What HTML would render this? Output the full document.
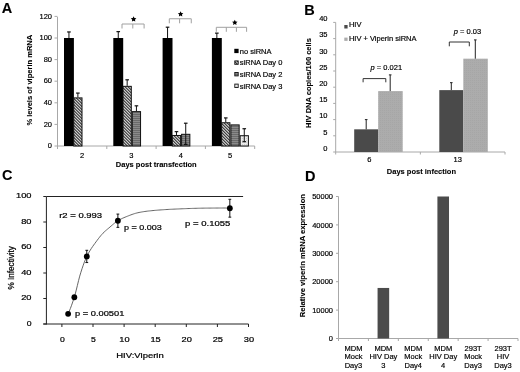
<!DOCTYPE html>
<html><head><meta charset="utf-8"><style>
html,body{margin:0;padding:0;background:#fff;}
svg{display:block;filter:grayscale(100%) blur(0.3px);}
text{font-family:"Liberation Sans",sans-serif;stroke:#000;stroke-width:0.18px;}
text[font-weight=bold]{stroke-width:0.1px;}
.c{stroke:#000;stroke-width:0.22px;}
</style></head><body>
<svg width="520" height="372" viewBox="0 0 520 372">
<defs>
<pattern id="hatch" patternUnits="userSpaceOnUse" width="2.12" height="2.12" patternTransform="rotate(45)">
<rect width="2.12" height="2.12" fill="#fff"/><rect width="2.12" height="1.0" fill="#000"/></pattern>
<pattern id="grayp" patternUnits="userSpaceOnUse" width="2" height="2">
<rect width="2" height="2" fill="#8a8a8a"/><rect width="2" height="1" fill="#6a6a6a"/></pattern>
<pattern id="whitep" patternUnits="userSpaceOnUse" width="2" height="2">
<rect width="2" height="2" fill="#ececec"/><rect width="1" height="1" fill="#d0d0d0"/></pattern>
<pattern id="ltp" patternUnits="userSpaceOnUse" width="2" height="2">
<rect width="2" height="2" fill="#acacac"/><rect width="1" height="1" fill="#a6a6a6"/></pattern>
</defs>
<rect width="520" height="372" fill="#fff"/>
<text x="1.70" y="12.50" font-size="14.5" text-anchor="start" font-weight="bold">A</text>
<line x1="57.50" y1="17.00" x2="57.50" y2="146.00" stroke="#a8a8a8" stroke-width="1"/>
<line x1="54.50" y1="146.00" x2="57.50" y2="146.00" stroke="#a8a8a8" stroke-width="1"/>
<text x="52.00" y="148.20" font-size="7.5" text-anchor="end">0</text>
<line x1="54.50" y1="124.40" x2="57.50" y2="124.40" stroke="#a8a8a8" stroke-width="1"/>
<text x="52.00" y="126.60" font-size="7.5" text-anchor="end">20</text>
<line x1="54.50" y1="102.80" x2="57.50" y2="102.80" stroke="#a8a8a8" stroke-width="1"/>
<text x="52.00" y="105.00" font-size="7.5" text-anchor="end">40</text>
<line x1="54.50" y1="81.20" x2="57.50" y2="81.20" stroke="#a8a8a8" stroke-width="1"/>
<text x="52.00" y="83.40" font-size="7.5" text-anchor="end">60</text>
<line x1="54.50" y1="59.60" x2="57.50" y2="59.60" stroke="#a8a8a8" stroke-width="1"/>
<text x="52.00" y="61.80" font-size="7.5" text-anchor="end">80</text>
<line x1="54.50" y1="38.00" x2="57.50" y2="38.00" stroke="#a8a8a8" stroke-width="1"/>
<text x="52.00" y="40.20" font-size="7.5" text-anchor="end">100</text>
<line x1="54.50" y1="16.40" x2="57.50" y2="16.40" stroke="#a8a8a8" stroke-width="1"/>
<text x="52.00" y="18.60" font-size="7.5" text-anchor="end">120</text>
<line x1="57.50" y1="146.00" x2="254.70" y2="146.00" stroke="#a8a8a8" stroke-width="1"/>
<line x1="57.50" y1="146.00" x2="57.50" y2="149.00" stroke="#a8a8a8" stroke-width="1"/>
<line x1="106.80" y1="146.00" x2="106.80" y2="149.00" stroke="#a8a8a8" stroke-width="1"/>
<line x1="156.10" y1="146.00" x2="156.10" y2="149.00" stroke="#a8a8a8" stroke-width="1"/>
<line x1="205.40" y1="146.00" x2="205.40" y2="149.00" stroke="#a8a8a8" stroke-width="1"/>
<line x1="254.70" y1="146.00" x2="254.70" y2="149.00" stroke="#a8a8a8" stroke-width="1"/>
<text x="82.15" y="157.70" font-size="7.5" text-anchor="middle">2</text>
<text x="131.45" y="157.70" font-size="7.5" text-anchor="middle">3</text>
<text x="180.75" y="157.70" font-size="7.5" text-anchor="middle">4</text>
<text x="230.05" y="157.70" font-size="7.5" text-anchor="middle">5</text>
<text x="156.25" y="167.00" font-size="7.5" text-anchor="middle" font-weight="bold">Days post transfection</text>
<text x="32.50" y="80.20" font-size="7.8" text-anchor="middle" font-weight="bold" textLength="90.8" lengthAdjust="spacingAndGlyphs" transform="rotate(-90 32.50 80.20)">% levels of viperin mRNA</text>
<rect x="64.00" y="38.00" width="9.90" height="108.00" fill="#000"/>
<line x1="68.95" y1="38.00" x2="68.95" y2="31.95" stroke="#111" stroke-width="1"/>
<line x1="67.15" y1="31.95" x2="70.75" y2="31.95" stroke="#111" stroke-width="1.2"/>
<rect x="73.75" y="97.90" width="8.25" height="48.10" fill="url(#hatch)" stroke="#111" stroke-width="1"/>
<line x1="77.88" y1="97.40" x2="77.88" y2="93.08" stroke="#111" stroke-width="1"/>
<line x1="76.08" y1="93.08" x2="79.67" y2="93.08" stroke="#111" stroke-width="1.2"/>
<rect x="113.30" y="38.00" width="9.90" height="108.00" fill="#000"/>
<line x1="118.25" y1="38.00" x2="118.25" y2="31.63" stroke="#111" stroke-width="1"/>
<line x1="116.45" y1="31.63" x2="120.05" y2="31.63" stroke="#111" stroke-width="1.2"/>
<rect x="123.05" y="86.34" width="8.25" height="59.66" fill="url(#hatch)" stroke="#111" stroke-width="1"/>
<line x1="127.17" y1="85.84" x2="127.17" y2="79.80" stroke="#111" stroke-width="1"/>
<line x1="125.38" y1="79.80" x2="128.97" y2="79.80" stroke="#111" stroke-width="1.2"/>
<rect x="132.30" y="111.62" width="8.25" height="34.38" fill="url(#grayp)" stroke="#111" stroke-width="1"/>
<line x1="136.43" y1="111.12" x2="136.43" y2="105.82" stroke="#111" stroke-width="1"/>
<line x1="134.62" y1="105.82" x2="138.23" y2="105.82" stroke="#111" stroke-width="1.2"/>
<rect x="162.60" y="38.00" width="9.90" height="108.00" fill="#000"/>
<line x1="167.55" y1="38.00" x2="167.55" y2="27.20" stroke="#111" stroke-width="1"/>
<line x1="165.75" y1="27.20" x2="169.35" y2="27.20" stroke="#111" stroke-width="1.2"/>
<rect x="172.35" y="135.48" width="8.25" height="10.52" fill="url(#hatch)" stroke="#111" stroke-width="1"/>
<line x1="176.47" y1="134.98" x2="176.47" y2="131.64" stroke="#111" stroke-width="1"/>
<line x1="174.67" y1="131.64" x2="178.28" y2="131.64" stroke="#111" stroke-width="1.2"/>
<rect x="181.60" y="134.30" width="8.25" height="11.70" fill="url(#grayp)" stroke="#111" stroke-width="1"/>
<line x1="185.72" y1="133.80" x2="185.72" y2="123.21" stroke="#111" stroke-width="1"/>
<line x1="183.92" y1="123.21" x2="187.53" y2="123.21" stroke="#111" stroke-width="1.2"/>
<line x1="185.72" y1="133.80" x2="185.72" y2="144.38" stroke="#111" stroke-width="1"/>
<line x1="183.92" y1="144.38" x2="187.53" y2="144.38" stroke="#111" stroke-width="1.2"/>
<rect x="211.90" y="38.00" width="9.90" height="108.00" fill="#000"/>
<line x1="216.85" y1="38.00" x2="216.85" y2="33.14" stroke="#111" stroke-width="1"/>
<line x1="215.05" y1="33.14" x2="218.65" y2="33.14" stroke="#111" stroke-width="1.2"/>
<rect x="221.65" y="122.74" width="8.25" height="23.26" fill="url(#hatch)" stroke="#111" stroke-width="1"/>
<line x1="225.77" y1="122.24" x2="225.77" y2="117.92" stroke="#111" stroke-width="1"/>
<line x1="223.97" y1="117.92" x2="227.57" y2="117.92" stroke="#111" stroke-width="1.2"/>
<rect x="230.90" y="124.90" width="8.25" height="21.10" fill="url(#grayp)" stroke="#111" stroke-width="1"/>
<rect x="240.15" y="135.70" width="8.25" height="10.30" fill="url(#whitep)" stroke="#111" stroke-width="1"/>
<line x1="244.27" y1="135.20" x2="244.27" y2="128.72" stroke="#111" stroke-width="1"/>
<line x1="242.47" y1="128.72" x2="246.07" y2="128.72" stroke="#111" stroke-width="1.2"/>
<line x1="244.27" y1="135.20" x2="244.27" y2="141.68" stroke="#111" stroke-width="1"/>
<line x1="242.47" y1="141.68" x2="246.07" y2="141.68" stroke="#111" stroke-width="1.2"/>
<line x1="122.00" y1="24.00" x2="144.10" y2="24.00" stroke="#a0a0a0" stroke-width="1"/>
<line x1="122.00" y1="24.00" x2="122.00" y2="28.50" stroke="#a0a0a0" stroke-width="1"/>
<line x1="144.10" y1="24.00" x2="144.10" y2="28.50" stroke="#a0a0a0" stroke-width="1"/>
<line x1="132.80" y1="24.00" x2="132.80" y2="28.50" stroke="#a0a0a0" stroke-width="1"/>
<line x1="169.30" y1="18.75" x2="191.25" y2="18.75" stroke="#a0a0a0" stroke-width="1"/>
<line x1="169.30" y1="18.75" x2="169.30" y2="23.30" stroke="#a0a0a0" stroke-width="1"/>
<line x1="191.25" y1="18.75" x2="191.25" y2="23.30" stroke="#a0a0a0" stroke-width="1"/>
<line x1="179.60" y1="18.75" x2="179.60" y2="23.30" stroke="#a0a0a0" stroke-width="1"/>
<line x1="216.30" y1="27.30" x2="246.60" y2="27.30" stroke="#a0a0a0" stroke-width="1"/>
<line x1="216.30" y1="27.30" x2="216.30" y2="31.80" stroke="#a0a0a0" stroke-width="1"/>
<line x1="246.60" y1="27.30" x2="246.60" y2="31.80" stroke="#a0a0a0" stroke-width="1"/>
<line x1="226.30" y1="27.30" x2="226.30" y2="31.80" stroke="#a0a0a0" stroke-width="1"/>
<line x1="236.40" y1="27.30" x2="236.40" y2="31.80" stroke="#a0a0a0" stroke-width="1"/>
<polygon points="133.60,16.30 134.45,18.03 136.36,18.30 134.98,19.65 135.30,21.55 133.60,20.65 131.90,21.55 132.22,19.65 130.84,18.30 132.75,18.03" fill="#000"/>
<polygon points="180.60,11.20 181.45,12.93 183.36,13.20 181.98,14.55 182.30,16.45 180.60,15.55 178.90,16.45 179.22,14.55 177.84,13.20 179.75,12.93" fill="#000"/>
<polygon points="234.80,19.70 235.65,21.43 237.56,21.70 236.18,23.05 236.50,24.95 234.80,24.05 233.10,24.95 233.42,23.05 232.04,21.70 233.95,21.43" fill="#000"/>
<rect x="234.30" y="48.80" width="4.30" height="4.30" fill="#000"/>
<text x="239.80" y="53.70" font-size="7.5" text-anchor="start">no siRNA</text>
<rect x="234.80" y="60.90" width="3.40" height="3.40" fill="url(#hatch)" stroke="#111" stroke-width="0.9"/>
<text x="239.80" y="65.30" font-size="7.5" text-anchor="start">siRNA Day 0</text>
<rect x="234.80" y="72.50" width="3.40" height="3.40" fill="url(#grayp)" stroke="#111" stroke-width="0.9"/>
<text x="239.80" y="76.90" font-size="7.5" text-anchor="start">siRNA Day 2</text>
<rect x="234.80" y="84.10" width="3.40" height="3.40" fill="url(#whitep)" stroke="#111" stroke-width="0.9"/>
<text x="239.80" y="88.50" font-size="7.5" text-anchor="start">siRNA Day 3</text>
<text x="304.20" y="14.60" font-size="14.5" text-anchor="start" font-weight="bold">B</text>
<line x1="335.70" y1="22.40" x2="335.70" y2="152.00" stroke="#a8a8a8" stroke-width="1"/>
<line x1="333.20" y1="152.00" x2="335.70" y2="152.00" stroke="#a8a8a8" stroke-width="1"/>
<text x="327.50" y="150.70" font-size="7.5" text-anchor="end">0</text>
<line x1="333.20" y1="135.80" x2="335.70" y2="135.80" stroke="#a8a8a8" stroke-width="1"/>
<text x="327.50" y="134.50" font-size="7.5" text-anchor="end">5</text>
<line x1="333.20" y1="119.60" x2="335.70" y2="119.60" stroke="#a8a8a8" stroke-width="1"/>
<text x="327.50" y="118.30" font-size="7.5" text-anchor="end">10</text>
<line x1="333.20" y1="103.40" x2="335.70" y2="103.40" stroke="#a8a8a8" stroke-width="1"/>
<text x="327.50" y="102.10" font-size="7.5" text-anchor="end">15</text>
<line x1="333.20" y1="87.20" x2="335.70" y2="87.20" stroke="#a8a8a8" stroke-width="1"/>
<text x="327.50" y="85.90" font-size="7.5" text-anchor="end">20</text>
<line x1="333.20" y1="71.00" x2="335.70" y2="71.00" stroke="#a8a8a8" stroke-width="1"/>
<text x="327.50" y="69.70" font-size="7.5" text-anchor="end">25</text>
<line x1="333.20" y1="54.80" x2="335.70" y2="54.80" stroke="#a8a8a8" stroke-width="1"/>
<text x="327.50" y="53.50" font-size="7.5" text-anchor="end">30</text>
<line x1="333.20" y1="38.60" x2="335.70" y2="38.60" stroke="#a8a8a8" stroke-width="1"/>
<text x="327.50" y="37.30" font-size="7.5" text-anchor="end">35</text>
<line x1="333.20" y1="22.40" x2="335.70" y2="22.40" stroke="#a8a8a8" stroke-width="1"/>
<text x="327.50" y="21.10" font-size="7.5" text-anchor="end">40</text>
<line x1="335.70" y1="152.00" x2="505.00" y2="152.00" stroke="#a8a8a8" stroke-width="1"/>
<line x1="335.70" y1="152.00" x2="335.70" y2="154.50" stroke="#a8a8a8" stroke-width="1"/>
<line x1="420.35" y1="152.00" x2="420.35" y2="154.50" stroke="#a8a8a8" stroke-width="1"/>
<line x1="505.00" y1="152.00" x2="505.00" y2="154.50" stroke="#a8a8a8" stroke-width="1"/>
<text x="369.40" y="161.60" font-size="7.5" text-anchor="middle">6</text>
<text x="457.68" y="161.60" font-size="7.5" text-anchor="middle">13</text>
<text x="421.40" y="174.10" font-size="7.5" text-anchor="middle" font-weight="bold">Days post infection</text>
<text x="311.20" y="83.00" font-size="7.5" text-anchor="middle" font-weight="bold" transform="rotate(-90 311.20 83.00)">HIV DNA copies/100 cells</text>
<rect x="354.20" y="129.32" width="24.00" height="22.68" fill="#4a4a4a"/>
<line x1="366.20" y1="129.32" x2="366.20" y2="119.60" stroke="#222" stroke-width="1"/>
<line x1="364.90" y1="119.60" x2="367.50" y2="119.60" stroke="#222" stroke-width="1"/>
<rect x="378.20" y="91.09" width="24.50" height="60.91" fill="url(#ltp)"/>
<line x1="390.20" y1="91.09" x2="390.20" y2="74.89" stroke="#222" stroke-width="1"/>
<line x1="388.90" y1="74.89" x2="391.50" y2="74.89" stroke="#222" stroke-width="1"/>
<rect x="439.30" y="90.12" width="24.00" height="61.88" fill="#4a4a4a"/>
<line x1="451.30" y1="90.12" x2="451.30" y2="82.66" stroke="#222" stroke-width="1"/>
<line x1="450.00" y1="82.66" x2="452.60" y2="82.66" stroke="#222" stroke-width="1"/>
<rect x="463.30" y="58.69" width="24.50" height="93.31" fill="url(#ltp)"/>
<line x1="475.30" y1="58.69" x2="475.30" y2="39.90" stroke="#222" stroke-width="1"/>
<line x1="474.00" y1="39.90" x2="476.60" y2="39.90" stroke="#222" stroke-width="1"/>
<rect x="344.30" y="25.00" width="3.30" height="3.50" fill="#4a4a4a"/>
<text x="348.90" y="27.40" font-size="7.5" text-anchor="start">HIV</text>
<rect x="344.30" y="37.60" width="3.30" height="3.30" fill="#acacac"/>
<text x="348.90" y="40.50" font-size="7.5" text-anchor="start">HIV + Viperin siRNA</text>
<line x1="363.10" y1="78.60" x2="385.80" y2="78.60" stroke="#333" stroke-width="1"/>
<line x1="363.10" y1="78.60" x2="363.10" y2="82.30" stroke="#333" stroke-width="1"/>
<line x1="385.80" y1="78.60" x2="385.80" y2="82.30" stroke="#333" stroke-width="1"/>
<line x1="449.30" y1="42.00" x2="469.30" y2="42.00" stroke="#333" stroke-width="1"/>
<line x1="449.30" y1="42.00" x2="449.30" y2="46.30" stroke="#333" stroke-width="1"/>
<line x1="469.30" y1="42.00" x2="469.30" y2="46.30" stroke="#333" stroke-width="1"/>
<text x="370.6" y="69.8" font-size="7.5"><tspan font-style="italic">p</tspan> = 0.021</text>
<text x="453.8" y="33.8" font-size="7.5"><tspan font-style="italic">p</tspan> = 0.03</text>
<text x="1.90" y="179.70" font-size="14.5" text-anchor="start" font-weight="bold">C</text>
<line x1="46.40" y1="196.50" x2="46.40" y2="324.50" stroke="#222" stroke-width="1"/>
<line x1="43.30" y1="324.00" x2="248.50" y2="324.00" stroke="#222" stroke-width="1"/>
<line x1="46.40" y1="196.50" x2="243.10" y2="196.50" stroke="#222" stroke-width="1"/>
<line x1="43.30" y1="324.00" x2="46.40" y2="324.00" stroke="#222" stroke-width="1"/>
<text x="31.50" y="325.60" font-size="8" text-anchor="end" textLength="4.8" lengthAdjust="spacingAndGlyphs" class="c">0</text>
<line x1="43.30" y1="298.50" x2="46.40" y2="298.50" stroke="#222" stroke-width="1"/>
<text x="31.50" y="300.10" font-size="8" text-anchor="end" textLength="10.3" lengthAdjust="spacingAndGlyphs" class="c">20</text>
<line x1="43.30" y1="273.00" x2="46.40" y2="273.00" stroke="#222" stroke-width="1"/>
<text x="31.50" y="274.60" font-size="8" text-anchor="end" textLength="10.3" lengthAdjust="spacingAndGlyphs" class="c">40</text>
<line x1="43.30" y1="247.50" x2="46.40" y2="247.50" stroke="#222" stroke-width="1"/>
<text x="31.50" y="249.10" font-size="8" text-anchor="end" textLength="10.3" lengthAdjust="spacingAndGlyphs" class="c">60</text>
<line x1="43.30" y1="222.00" x2="46.40" y2="222.00" stroke="#222" stroke-width="1"/>
<text x="31.50" y="223.60" font-size="8" text-anchor="end" textLength="10.3" lengthAdjust="spacingAndGlyphs" class="c">80</text>
<line x1="43.30" y1="196.50" x2="46.40" y2="196.50" stroke="#222" stroke-width="1"/>
<text x="31.50" y="198.10" font-size="8" text-anchor="end" textLength="15.5" lengthAdjust="spacingAndGlyphs" class="c">100</text>
<line x1="61.90" y1="324.00" x2="61.90" y2="327.00" stroke="#222" stroke-width="1"/>
<text x="62.30" y="341.60" font-size="8" text-anchor="middle" textLength="4.8" lengthAdjust="spacingAndGlyphs" class="c">0</text>
<line x1="93.00" y1="324.00" x2="93.00" y2="327.00" stroke="#222" stroke-width="1"/>
<text x="93.40" y="341.60" font-size="8" text-anchor="middle" textLength="4.8" lengthAdjust="spacingAndGlyphs" class="c">5</text>
<line x1="124.10" y1="324.00" x2="124.10" y2="327.00" stroke="#222" stroke-width="1"/>
<text x="124.50" y="341.60" font-size="8" text-anchor="middle" textLength="10.3" lengthAdjust="spacingAndGlyphs" class="c">10</text>
<line x1="155.20" y1="324.00" x2="155.20" y2="327.00" stroke="#222" stroke-width="1"/>
<text x="155.60" y="341.60" font-size="8" text-anchor="middle" textLength="10.3" lengthAdjust="spacingAndGlyphs" class="c">15</text>
<line x1="186.30" y1="324.00" x2="186.30" y2="327.00" stroke="#222" stroke-width="1"/>
<text x="186.70" y="341.60" font-size="8" text-anchor="middle" textLength="10.3" lengthAdjust="spacingAndGlyphs" class="c">20</text>
<line x1="217.40" y1="324.00" x2="217.40" y2="327.00" stroke="#222" stroke-width="1"/>
<text x="217.80" y="341.60" font-size="8" text-anchor="middle" textLength="10.3" lengthAdjust="spacingAndGlyphs" class="c">25</text>
<line x1="248.50" y1="324.00" x2="248.50" y2="327.00" stroke="#222" stroke-width="1"/>
<text x="248.90" y="341.60" font-size="8" text-anchor="middle" textLength="10.3" lengthAdjust="spacingAndGlyphs" class="c">30</text>
<text x="140.00" y="357.80" font-size="8" text-anchor="middle" textLength="47.5" lengthAdjust="spacingAndGlyphs" class="c">HIV:Viperin</text>
<text x="14.40" y="267.80" font-size="8.5" text-anchor="middle" textLength="43.5" lengthAdjust="spacingAndGlyphs" transform="rotate(-90 14.40 267.80)" class="c">% Infectivity</text>
<polyline points="68.10,313.80 69.26,311.21 70.43,308.35 71.59,305.24 72.75,301.92 73.92,298.40 75.08,294.56 76.24,290.12 77.41,285.34 78.57,280.57 79.73,276.11 80.90,272.25 82.06,268.66 83.22,265.24 84.39,262.05 85.55,259.14 86.71,256.58 87.88,254.30 89.04,252.20 90.20,250.25 91.37,248.42 92.53,246.69 93.69,245.03 94.86,243.43 96.02,241.86 97.18,240.29 98.35,238.74 99.51,237.24 100.67,235.81 101.84,234.46 103.00,233.20 104.16,232.05 105.33,230.98 106.49,229.97 107.65,228.99 108.82,228.02 109.98,227.03 111.14,226.02 112.31,225.00 113.47,224.00 114.63,223.04 115.80,222.13 116.96,221.30 118.12,220.57 119.29,219.91 120.45,219.29 121.61,218.71 122.78,218.17 123.94,217.66 125.10,217.17 126.27,216.69 127.43,216.23 128.59,215.77 129.76,215.31 130.92,214.87 132.08,214.44 133.25,214.04 134.41,213.66 135.57,213.31 136.74,213.00 137.90,212.72 139.06,212.48 140.23,212.25 141.39,212.04 142.55,211.84 143.72,211.65 144.88,211.48 146.04,211.32 147.21,211.17 148.37,211.03 149.53,210.91 150.69,210.79 151.86,210.67 153.02,210.56 154.18,210.45 155.35,210.35 156.51,210.25 157.67,210.15 158.84,210.06 160.00,209.97 161.16,209.88 162.33,209.80 163.49,209.72 164.65,209.64 165.82,209.57 166.98,209.50 168.14,209.43 169.31,209.37 170.47,209.31 171.63,209.25 172.80,209.20 173.96,209.14 175.12,209.09 176.29,209.04 177.45,208.99 178.61,208.94 179.78,208.89 180.94,208.84 182.10,208.79 183.27,208.74 184.43,208.69 185.59,208.65 186.76,208.60 187.92,208.56 189.08,208.52 190.25,208.48 191.41,208.44 192.57,208.40 193.74,208.37 194.90,208.33 196.06,208.30 197.23,208.27 198.39,208.24 199.55,208.22 200.72,208.19 201.88,208.17 203.04,208.15 204.21,208.13 205.37,208.12 206.53,208.11 207.70,208.10 208.86,208.09 210.02,208.08 211.19,208.07 212.35,208.07 213.51,208.06 214.68,208.05 215.84,208.04 217.00,208.04 218.17,208.03 219.33,208.03 220.49,208.02 221.66,208.02 222.82,208.01 223.98,208.01 225.15,208.01 226.31,208.00 227.47,208.00 228.64,208.00 229.80,208.00" fill="none" stroke="#555" stroke-width="0.9"/>
<circle cx="68.12" cy="313.80" r="2.9" fill="#000"/>
<circle cx="74.34" cy="297.23" r="2.9" fill="#000"/>
<line x1="86.78" y1="250.31" x2="86.78" y2="262.55" stroke="#111" stroke-width="1"/>
<line x1="85.38" y1="250.31" x2="88.18" y2="250.31" stroke="#111" stroke-width="1"/>
<line x1="85.38" y1="262.55" x2="88.18" y2="262.55" stroke="#111" stroke-width="1"/>
<circle cx="86.78" cy="256.43" r="2.9" fill="#000"/>
<line x1="117.88" y1="214.09" x2="117.88" y2="227.36" stroke="#111" stroke-width="1"/>
<line x1="116.48" y1="214.09" x2="119.28" y2="214.09" stroke="#111" stroke-width="1"/>
<line x1="116.48" y1="227.36" x2="119.28" y2="227.36" stroke="#111" stroke-width="1"/>
<circle cx="117.88" cy="220.73" r="2.9" fill="#000"/>
<line x1="229.84" y1="199.31" x2="229.84" y2="217.16" stroke="#111" stroke-width="1"/>
<line x1="228.44" y1="199.31" x2="231.24" y2="199.31" stroke="#111" stroke-width="1"/>
<line x1="228.44" y1="217.16" x2="231.24" y2="217.16" stroke="#111" stroke-width="1"/>
<circle cx="229.84" cy="208.23" r="2.9" fill="#000"/>
<text x="59.20" y="218.30" font-size="8" text-anchor="start" textLength="42.9" lengthAdjust="spacingAndGlyphs" class="c">r2 = 0.993</text>
<text x="124.00" y="229.90" font-size="8" text-anchor="start" textLength="37.8" lengthAdjust="spacingAndGlyphs" class="c">p = 0.003</text>
<text x="185.10" y="225.60" font-size="8" text-anchor="start" textLength="45.2" lengthAdjust="spacingAndGlyphs" class="c">p = 0.1055</text>
<text x="75.00" y="316.30" font-size="8" text-anchor="start" textLength="49.3" lengthAdjust="spacingAndGlyphs" class="c">p = 0.00501</text>
<text x="305.00" y="180.70" font-size="14.5" text-anchor="start" font-weight="bold">D</text>
<line x1="338.50" y1="196.50" x2="338.50" y2="338.50" stroke="#a8a8a8" stroke-width="1"/>
<line x1="336.00" y1="338.50" x2="338.50" y2="338.50" stroke="#a8a8a8" stroke-width="1"/>
<text x="333.00" y="341.20" font-size="7.5" text-anchor="end">0</text>
<line x1="336.00" y1="310.10" x2="338.50" y2="310.10" stroke="#a8a8a8" stroke-width="1"/>
<text x="333.00" y="312.80" font-size="7.5" text-anchor="end">10000</text>
<line x1="336.00" y1="281.70" x2="338.50" y2="281.70" stroke="#a8a8a8" stroke-width="1"/>
<text x="333.00" y="284.40" font-size="7.5" text-anchor="end">20000</text>
<line x1="336.00" y1="253.30" x2="338.50" y2="253.30" stroke="#a8a8a8" stroke-width="1"/>
<text x="333.00" y="256.00" font-size="7.5" text-anchor="end">30000</text>
<line x1="336.00" y1="224.90" x2="338.50" y2="224.90" stroke="#a8a8a8" stroke-width="1"/>
<text x="333.00" y="227.60" font-size="7.5" text-anchor="end">40000</text>
<line x1="336.00" y1="196.50" x2="338.50" y2="196.50" stroke="#a8a8a8" stroke-width="1"/>
<text x="333.00" y="199.20" font-size="7.5" text-anchor="end">50000</text>
<line x1="338.50" y1="338.50" x2="518.00" y2="338.50" stroke="#a8a8a8" stroke-width="1"/>
<line x1="338.50" y1="338.50" x2="338.50" y2="341.00" stroke="#a8a8a8" stroke-width="1"/>
<line x1="368.42" y1="338.50" x2="368.42" y2="341.00" stroke="#a8a8a8" stroke-width="1"/>
<line x1="398.33" y1="338.50" x2="398.33" y2="341.00" stroke="#a8a8a8" stroke-width="1"/>
<line x1="428.25" y1="338.50" x2="428.25" y2="341.00" stroke="#a8a8a8" stroke-width="1"/>
<line x1="458.17" y1="338.50" x2="458.17" y2="341.00" stroke="#a8a8a8" stroke-width="1"/>
<line x1="488.08" y1="338.50" x2="488.08" y2="341.00" stroke="#a8a8a8" stroke-width="1"/>
<line x1="518.00" y1="338.50" x2="518.00" y2="341.00" stroke="#a8a8a8" stroke-width="1"/>
<text x="305.40" y="255.60" font-size="7.5" text-anchor="middle" font-weight="bold" textLength="123.2" lengthAdjust="spacingAndGlyphs" transform="rotate(-90 305.40 255.60)">Relative viperin mRNA expression</text>
<text x="353.46" y="350.60" font-size="7.5" text-anchor="middle">MDM</text>
<text x="353.46" y="359.30" font-size="7.5" text-anchor="middle">Mock</text>
<text x="353.46" y="368.00" font-size="7.5" text-anchor="middle">Day3</text>
<text x="383.38" y="350.60" font-size="7.5" text-anchor="middle">MDM</text>
<text x="383.38" y="359.30" font-size="7.5" text-anchor="middle">HIV Day</text>
<text x="383.38" y="368.00" font-size="7.5" text-anchor="middle">3</text>
<text x="413.29" y="350.60" font-size="7.5" text-anchor="middle">MDM</text>
<text x="413.29" y="359.30" font-size="7.5" text-anchor="middle">Mock</text>
<text x="413.29" y="368.00" font-size="7.5" text-anchor="middle">Day4</text>
<text x="443.21" y="350.60" font-size="7.5" text-anchor="middle">MDM</text>
<text x="443.21" y="359.30" font-size="7.5" text-anchor="middle">HIV Day</text>
<text x="443.21" y="368.00" font-size="7.5" text-anchor="middle">4</text>
<text x="473.12" y="350.60" font-size="7.5" text-anchor="middle">293T</text>
<text x="473.12" y="359.30" font-size="7.5" text-anchor="middle">Mock</text>
<text x="473.12" y="368.00" font-size="7.5" text-anchor="middle">Day3</text>
<text x="503.04" y="350.60" font-size="7.5" text-anchor="middle">293T</text>
<text x="503.04" y="359.30" font-size="7.5" text-anchor="middle">HIV</text>
<text x="503.04" y="368.00" font-size="7.5" text-anchor="middle">Day3</text>
<rect x="377.57" y="287.95" width="11.60" height="50.55" fill="#4b4b4b"/>
<rect x="437.41" y="196.50" width="11.60" height="142.00" fill="#4b4b4b"/>
</svg>
</body></html>
